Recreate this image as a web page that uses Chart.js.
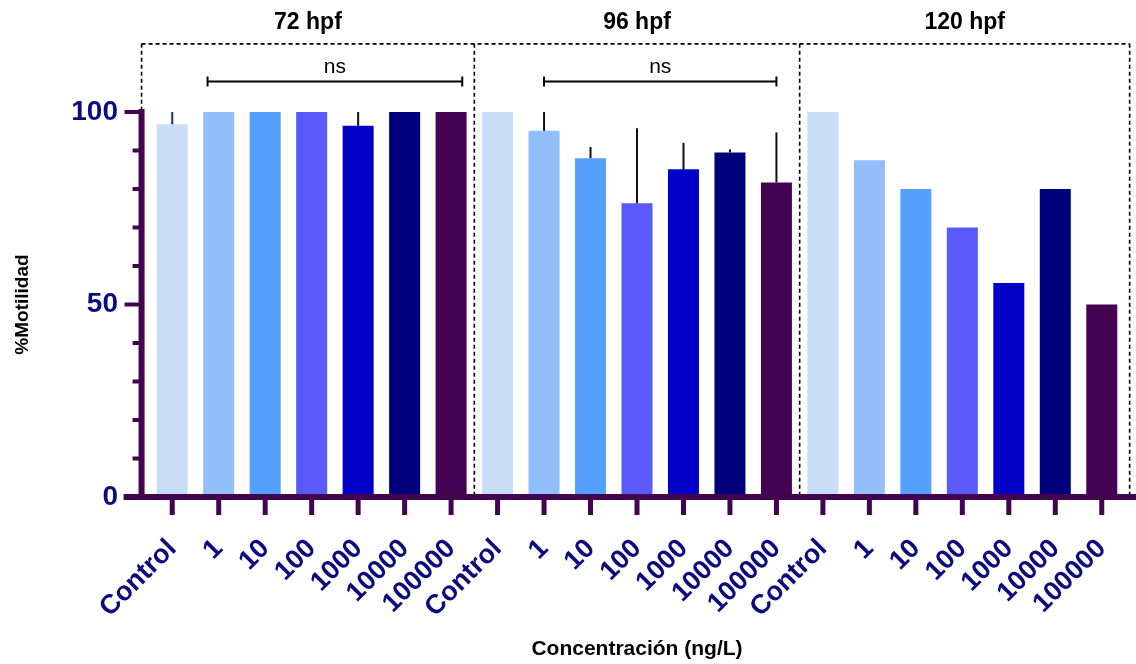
<!DOCTYPE html>
<html>
<head>
<meta charset="utf-8">
<script src="https://cdn.jsdelivr.net/npm/chart.js@4.4.1/dist/chart.umd.min.js"></script>
<style>
  html, body { margin: 0; padding: 0; background: #fff; }
</style>
</head>
<body>
<canvas id="chart" width="1136" height="664"></canvas>
<script>
// values
const groups = ['72 hpf', '96 hpf', '120 hpf'];
const concentrations = ['Control', '1', '10', '100', '1000', '10000', '100000'];
const mean72 = [96.8, 100, 100, 100, 96.4, 100, 100];
const sd72 = [3.2, 0, 0, 0, 3.6, 0, 0];
const mean96 = [100, 95.1, 88.0, 76.3, 85.1, 89.5, 81.7];
const sd96 = [0, 4.9, 2.9, 19.5, 6.9, 0.8, 13.0];
const mean120 = [100, 87.5, 80, 70, 55.6, 80, 50];
const sd120 = [0, 0, 0, 0, 0, 0, 0];
const yTicks = [0, 50, 100];
const nsPairs = [[0.76, 6.24], [8, 13]]; // bracket ends, in category units

const barColors = ['#c9ddf7', '#92bef9', '#559ffe', '#5a59f9', '#0000c8', '#00007a', '#430352'];
const axisColor = '#42044f';
const navy = '#0b0b7e';
const FONT = 'Arial, "Liberation Sans", sans-serif';

const labels = groups.flatMap(() => concentrations);
const values = [...mean72, ...mean96, ...mean120];
const errors = [...sd72, ...sd96, ...sd120];
const colors = groups.flatMap(() => barColors);

const decor = {
  id: 'decor',
  beforeDatasetsDraw(chart) {
    const ctx = chart.ctx;
    const xs = chart.scales.x, ys = chart.scales.y;
    const top = ys.getPixelForValue(117.7);
    const y0 = ys.getPixelForValue(0);
    const edges = [-0.66, 6.5, 13.5, 20.6].map(v => xs.getPixelForValue(v));
    ctx.save();
    ctx.strokeStyle = '#000';
    ctx.lineWidth = 1.6;
    ctx.setLineDash([4, 3]);
    ctx.beginPath();
    ctx.moveTo(edges[0], top);
    ctx.lineTo(edges[3], top);
    edges.forEach(x => { ctx.moveTo(x, top); ctx.lineTo(x, y0); });
    ctx.stroke();
    ctx.restore();
  },
  afterDatasetsDraw(chart) {
    const ctx = chart.ctx;
    const xs = chart.scales.x, ys = chart.scales.y;
    ctx.save();
    ctx.lineWidth = 2;
    values.forEach((v, i) => {
      if (!errors[i]) return;
      const x = xs.getPixelForValue(i);
      ctx.strokeStyle = i === 0 ? '#1d2b8f' : '#111';
      ctx.beginPath();
      ctx.moveTo(x, ys.getPixelForValue(v));
      ctx.lineTo(x, ys.getPixelForValue(v + errors[i]));
      ctx.stroke();
    });
    ctx.restore();
  },
  afterDraw(chart) {
    const ctx = chart.ctx;
    const xs = chart.scales.x, ys = chart.scales.y;
    const y0 = ys.getPixelForValue(0);
    const yAxisX = xs.getPixelForValue(-0.66);
    ctx.save();
    ctx.strokeStyle = axisColor;
    // axes
    ctx.lineWidth = 6;
    ctx.beginPath();
    ctx.moveTo(yAxisX, ys.getPixelForValue(100) - 3);
    ctx.lineTo(yAxisX, y0);
    ctx.moveTo(yAxisX - 18, y0);
    ctx.lineTo(chart.width, y0);
    ctx.stroke();
    // y ticks
    ctx.lineWidth = 4;
    for (let v = 0; v <= 100; v += 10) {
      const y = ys.getPixelForValue(v);
      const len = v % 50 === 0 ? 17 : 9;
      ctx.beginPath();
      ctx.moveTo(yAxisX - len, y);
      ctx.lineTo(yAxisX, y);
      ctx.stroke();
    }
    // x ticks
    ctx.lineWidth = 5;
    labels.forEach((l, i) => {
      const x = xs.getPixelForValue(i);
      ctx.beginPath();
      ctx.moveTo(x, y0);
      ctx.lineTo(x, y0 + 18);
      ctx.stroke();
    });
    // group headers
    const edges = [-0.66, 6.5, 13.5, 20.6];
    ctx.fillStyle = '#000';
    ctx.font = 'bold 23px ' + FONT;
    ctx.textAlign = 'center';
    ctx.textBaseline = 'middle';
    groups.forEach((g, i) => {
      const x = (xs.getPixelForValue(edges[i]) + xs.getPixelForValue(edges[i + 1])) / 2;
      ctx.fillText(g, x, ys.getPixelForValue(123.3));
    });
    // ns brackets
    ctx.strokeStyle = '#000';
    ctx.lineWidth = 2;
    ctx.font = '21px ' + FONT;
    nsPairs.forEach(([a, b]) => {
      const xa = xs.getPixelForValue(a), xb = xs.getPixelForValue(b);
      const y = ys.getPixelForValue(107.9);
      ctx.beginPath();
      ctx.moveTo(xa, y); ctx.lineTo(xb, y);
      ctx.moveTo(xa, y - 5); ctx.lineTo(xa, y + 5);
      ctx.moveTo(xb, y - 5); ctx.lineTo(xb, y + 5);
      ctx.stroke();
      ctx.fillText('ns', (xa + xb) / 2, ys.getPixelForValue(111.6));
    });
    ctx.restore();
  }
};

new Chart(document.getElementById('chart'), {
  type: 'bar',
  data: {
    labels: labels,
    datasets: [{
      data: values,
      backgroundColor: colors,
      borderWidth: 0,
      categoryPercentage: 1,
      barPercentage: 0.667
    }]
  },
  options: {
    responsive: false,
    animation: false,
    devicePixelRatio: 1,
    layout: { padding: { top: 112, right: 11, left: 0, bottom: 0 } },
    plugins: {
      legend: { display: false },
      tooltip: { enabled: false }
    },
    scales: {
      x: {
        grid: { display: false, drawTicks: false },
        border: { display: false },
        ticks: {
          autoSkip: false,
          minRotation: 45,
          maxRotation: 45,
          padding: 36,
          color: navy,
          font: { family: FONT, size: 27, weight: 'bold' }
        },
        title: {
          display: true,
          text: 'Concentración (ng/L)',
          color: '#000',
          font: { family: FONT, size: 21, weight: 'bold' },
          padding: { top: 2, bottom: 2 }
        },
        afterFit(scale) {
          scale.height = 167;
          scale.paddingLeft = 0;
          scale.paddingRight = 0;
        }
      },
      y: {
        min: 0,
        max: 100,
        grid: { display: false, drawTicks: false },
        border: { display: false },
        afterBuildTicks(scale) { scale.ticks = yTicks.map(v => ({ value: v })); },
        ticks: {
          padding: 31,
          color: navy,
          font: { family: FONT, size: 28, weight: 'bold' }
        },
        title: {
          display: true,
          text: '%Motilidad',
          color: '#000',
          font: { family: FONT, size: 19, weight: 'bold' },
          padding: { top: 11 }
        },
        afterFit(scale) { scale.width = 149; }
      }
    }
  },
  plugins: [decor]
});
</script>
</body>
</html>
